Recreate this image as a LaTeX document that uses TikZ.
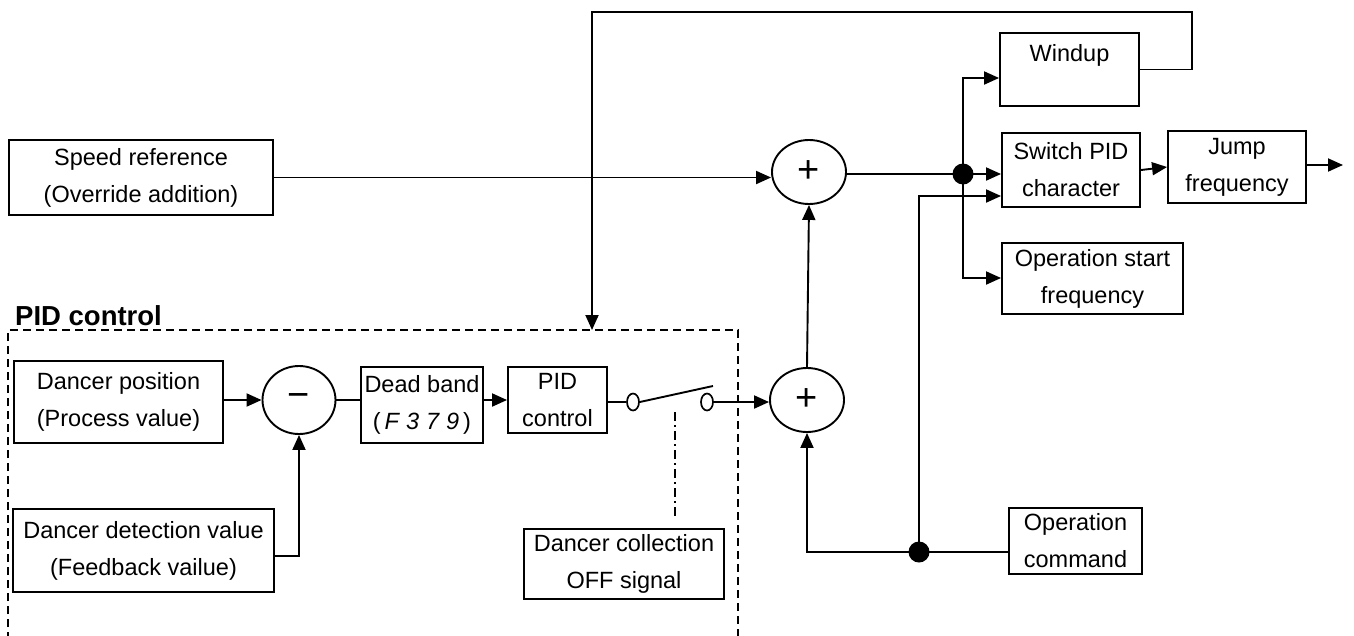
\documentclass[tikz,border=0pt]{standalone}
\usepackage{fontspec}
\setmainfont{Liberation Sans}
\usetikzlibrary{arrows.meta,shapes.geometric}
\begin{document}
\begin{tikzpicture}[x=1pt,y=-1pt,
  every node/.style={font=\fontsize{23.5}{37}\selectfont},
  blk/.style={draw,line width=1.9pt,align=center,inner sep=0pt},
  sumnode/.style={draw,ellipse,line width=1.9pt,inner sep=0pt},
  signfont/.style={font=\fontsize{38}{38}\selectfont},
  wire/.style={line width=1.9pt},
  arr/.style={wire,-{Triangle[length=15pt,width=13pt]}},
  dotn/.style={circle,fill=black,minimum size=21pt,inner sep=0pt},
  contact/.style={draw,ellipse,line width=1.7pt,fill=white,minimum width=12pt,minimum height=17pt,inner sep=0pt},
  pidframe/.style={line width=1.6pt,dash pattern=on 8pt off 5pt},
  ctrlline/.style={line width=1.6pt,dash pattern=on 9pt off 4pt on 2pt off 4pt},
]
\useasboundingbox (0,0) rectangle (1354,635);

% PID frame
\draw[pidframe] (8,640) -- (8,330) -- (738,330) -- (738,640);
\node[font=\bfseries\fontsize{27.5}{30}\selectfont,anchor=south west,inner sep=0pt] (pidlabel) at (15,326) {PID control};

% blocks
\node[blk,minimum width=264pt,minimum height=75pt] (speed) at (141,177.5) {Speed reference\\(Override addition)};
\node[sumnode,signfont,minimum width=74pt,minimum height=64pt] (sumtop) at (809,172) {+};
\node[blk,minimum width=139pt,minimum height=73pt] (windup) at (1069.5,69.5) {Windup\\[-15pt]\strut};
\node[blk,minimum width=138pt,minimum height=74pt] (switchpid) at (1071,170) {Switch PID\\character};
\node[blk,minimum width=138pt,minimum height=72pt] (jump) at (1237,167) {Jump\\frequency};
\node[blk,minimum width=181pt,minimum height=71pt] (opstart) at (1092.5,278.5) {Operation start\\frequency};
\node[blk,minimum width=133pt,minimum height=66pt] (opcmd) at (1075.5,541) {Operation\\command};
\node[blk,minimum width=209pt,minimum height=82pt] (dancerpos) at (118.5,402) {Dancer position\\(Process value)};
\node[sumnode,signfont,minimum width=73pt,minimum height=68pt] (minus) at (299,400) {−};
\node[blk,minimum width=122pt,minimum height=76pt] (deadband) at (422,405) {Dead band\\(\,\textit{F\hspace{7pt}3\hspace{7pt}7\hspace{7pt}9}\,)};
\node[blk,minimum width=99pt,minimum height=66pt] (pid) at (557.5,400) {PID\\control};
\node[sumnode,signfont,minimum width=74pt,minimum height=64pt] (sumbot) at (807,400) {+};
\node[blk,minimum width=261pt,minimum height=83pt] (detect) at (143.5,550.5) {Dancer detection value\\(Feedback vailue)};
\node[blk,minimum width=200pt,minimum height=70pt] (collect) at (624,564) {Dancer collection\\OFF signal};

% junctions
\node[dotn] (jtop) at (963,174) {};
\node[dotn] (jbot) at (919,552) {};

% coordinates
\coordinate (pidtop) at (592,330);
\coordinate (fbcorner) at (1192,69.5);
\coordinate (fbtop1) at (1192,12);
\coordinate (fbtop2) at (592,12);
\coordinate (wupin) at (963,78);
\coordinate (osin) at (963,278);
\coordinate (out) at (1343,165);
\coordinate (botcorner) at (807,552);
\coordinate (spin) at (919,196);
\coordinate (detcorner) at (299,556);
\coordinate (bladeend) at (713,386);
\coordinate (dd1) at (675,412);
\coordinate (dd2) at (675,517);

% connectors
\draw[arr] (speed.east) -- (sumtop.west |- speed.east);
\draw[arr] (windup.east) -- (fbcorner) -- (fbtop1) -- (fbtop2) -- (pidtop);
\draw[wire] (sumtop.east |- jtop) -- (jtop.center);
\draw[arr] (jtop.center) -- (switchpid.west |- jtop);
\draw[arr] (jtop.center) -- (wupin) -- (windup.west |- wupin);
\draw[arr] (jtop.center) -- (osin) -- (opstart.west |- osin);
\draw[arr] (switchpid.east) -- (jump.west);
\draw[arr] (jump.east |- out) -- (out);
\draw[arr] (sumbot.north) -- (sumtop.south);
\draw[wire] (opcmd.west |- jbot) -- (jbot.center);
\draw[arr] (jbot.center) -- (botcorner) -- (sumbot.south);
\draw[arr] (jbot.center) -- (spin) -- (switchpid.west |- spin);
\draw[arr] (dancerpos.east |- minus.west) -- (minus.west);
\draw[arr] (detect.east |- detcorner) -- (detcorner) -- (minus.south);
\draw[wire] (minus.east) -- (deadband.west |- minus.east);
\draw[arr] (deadband.east |- pid.west) -- (pid.west);
\node[contact] (c1) at (633,402) {};
\node[contact] (c2) at (707,402) {};
\draw[wire] (pid.east |- c1) -- (c1.west);
\draw[wire] (c1.east) -- (bladeend);
\draw[arr] (c2.east) -- (sumbot.west |- c2);
\draw[ctrlline] (dd1) -- (dd2);
\end{tikzpicture}
\end{document}
